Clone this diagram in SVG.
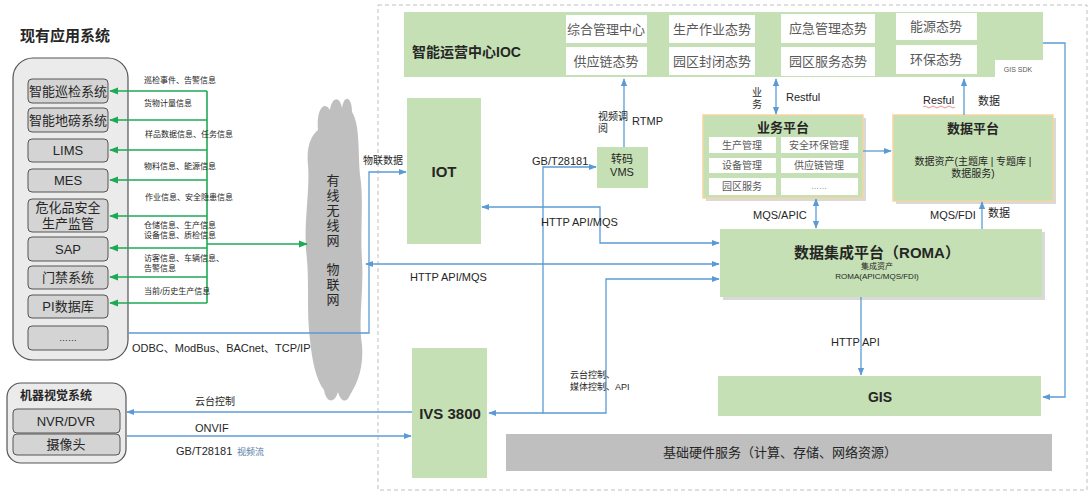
<svg xmlns="http://www.w3.org/2000/svg" width="1091" height="497" viewBox="0 0 1091 497">
<style>
text{font-family:"Liberation Sans","Noto Sans CJK SC",sans-serif;fill:#262626}
.g{fill:#C5E0B4}
.w{fill:#FFFFFF}
.t13{font-size:13px}
.gr{fill:#595959}
.b{font-weight:bold}
.s8{font-size:8px}
.s11{font-size:11px}
.sys{fill:#D4D4D4;stroke:#555;stroke-width:1}
.cb{fill:none;stroke:#5B9BD5;stroke-width:1.3}
.cg{fill:none;stroke:#1EAA55;stroke-width:1.6}
.plat{fill:#C5E0B4;stroke:#F2D6A2;stroke-width:1.5}
.sh{fill:#D9D9D9}
</style>
<defs>
<marker id="ab" viewBox="0 0 10 10" refX="9" refY="5" markerWidth="8" markerHeight="8" markerUnits="userSpaceOnUse" orient="auto-start-reverse"><path d="M0,1 L10,5 L0,9 z" fill="#5B9BD5"/></marker>
<marker id="ag" viewBox="0 0 10 10" refX="9" refY="5" markerWidth="9" markerHeight="9" markerUnits="userSpaceOnUse" orient="auto-start-reverse"><path d="M0,1 L10,5 L0,9 z" fill="#1EAA55"/></marker>
</defs>
<rect width="1091" height="497" fill="#FFFFFF"/>
<rect x="378" y="5" width="709" height="485" fill="none" stroke="#C0C0C0" stroke-dasharray="4,3"/>

<g id="existing-systems">
<text x="20" y="41" font-size="15" class="b">现有应用系统</text>
<rect x="13" y="58" width="115" height="302" rx="20" fill="#EBEBEB" stroke="#555" stroke-width="1.2"/>
<rect class="sys" x="28" y="79" width="80" height="24" rx="4"/><text x="68" y="96" class="t13" text-anchor="middle">智能巡检系统</text>
<rect class="sys" x="28" y="108" width="80" height="24" rx="4"/><text x="68" y="125" class="t13" text-anchor="middle">智能地磅系统</text>
<rect class="sys" x="28" y="139" width="80" height="23" rx="4"/><text x="68" y="155" class="t13" text-anchor="middle">LIMS</text>
<rect class="sys" x="28" y="169" width="80" height="23" rx="4"/><text x="68" y="185" class="t13" text-anchor="middle">MES</text>
<rect class="sys" x="28" y="199" width="80" height="33" rx="4"/><text x="68" y="212" class="t13" text-anchor="middle">危化品安全</text><text x="68" y="228" class="t13" text-anchor="middle">生产监管</text>
<rect class="sys" x="28" y="237" width="80" height="24" rx="4"/><text x="68" y="254" class="t13" text-anchor="middle">SAP</text>
<rect class="sys" x="28" y="266" width="80" height="23" rx="4"/><text x="68" y="282" class="t13" text-anchor="middle">门禁系统</text>
<rect class="sys" x="28" y="295" width="80" height="23" rx="4"/><text x="68" y="311" class="t13" text-anchor="middle">PI数据库</text>
<rect class="sys" x="28" y="326" width="80" height="24" rx="4"/><text x="68" y="341" font-size="9" text-anchor="middle">……</text>
</g>

<g id="cloud">
<path d="M318,130 C316,110 324,100 330,110 C332,96 340,96 342,108 C344,94 352,96 352,112 C360,125 358,150 360,175 C364,200 360,230 362,260 C364,290 358,320 362,345 C364,370 356,385 350,395 C346,405 340,400 338,392 C334,405 326,402 324,390 C316,380 312,360 310,340 C306,310 310,280 306,250 C304,220 310,190 308,165 C306,145 312,135 318,130 Z" fill="#BFBFBF"/>
<g class="t13" text-anchor="middle">
<text x="333" y="185">有</text><text x="333" y="200">线</text><text x="333" y="215">无</text><text x="333" y="230">线</text><text x="333" y="245">网</text>
<text x="333" y="274">物</text><text x="333" y="289">联</text><text x="333" y="304">网</text>
</g>
</g>

<g id="ioc">
<path class="g" d="M404,12 H1043 V60 H995 V77 H404 Z"/>
<text x="412" y="57" font-size="14" class="b">智能运营中心IOC</text>
<rect class="w" x="566" y="15" width="81" height="28"/><text x="606" y="34" class="t13 gr" text-anchor="middle">综合管理中心</text>
<rect class="w" x="566" y="47" width="81" height="28"/><text x="606" y="66" class="t13 gr" text-anchor="middle">供应链态势</text>
<rect class="w" x="669" y="15" width="86" height="28"/><text x="712" y="34" class="t13 gr" text-anchor="middle">生产作业态势</text>
<rect class="w" x="669" y="47" width="86" height="28"/><text x="712" y="66" class="t13 gr" text-anchor="middle">园区封闭态势</text>
<rect class="w" x="781" y="14" width="94" height="29"/><text x="828" y="33" class="t13 gr" text-anchor="middle">应急管理态势</text>
<rect class="w" x="781" y="47" width="94" height="29"/><text x="828" y="66" class="t13 gr" text-anchor="middle">园区服务态势</text>
<rect class="w" x="896" y="13" width="81" height="27"/><text x="936" y="31" class="t13 gr" text-anchor="middle">能源态势</text>
<rect class="w" x="896" y="45" width="81" height="29"/><text x="936" y="64" class="t13 gr" text-anchor="middle">环保态势</text>
<text x="1018" y="72" font-size="7" text-anchor="middle" class="gr">GIS SDK</text>
</g>

<g id="iot"><rect class="g" x="407" y="98" width="74" height="146"/><text x="444" y="177" font-size="15" class="b" text-anchor="middle">IOT</text></g>

<g id="vms"><rect class="g" x="597" y="147" width="51" height="41"/><text x="622" y="163" font-size="11" text-anchor="middle">转码</text><text x="622" y="176" font-size="11" text-anchor="middle">VMS</text></g>

<g id="biz-platform">
<rect class="sh" x="706" y="118" width="160" height="83"/>
<rect class="plat" x="703" y="115" width="160" height="83"/>
<text x="783" y="132" font-size="13" class="b" text-anchor="middle">业务平台</text>
<rect class="w" x="709" y="137" width="67" height="16"/><text x="742" y="149" font-size="10" class="gr" text-anchor="middle">生产管理</text>
<rect class="w" x="781" y="137" width="77" height="16"/><text x="819" y="149" font-size="10" class="gr" text-anchor="middle">安全环保管理</text>
<rect class="w" x="709" y="158" width="67" height="15"/><text x="742" y="169" font-size="10" class="gr" text-anchor="middle">设备管理</text>
<rect class="w" x="781" y="158" width="77" height="15"/><text x="819" y="169" font-size="10" class="gr" text-anchor="middle">供应链管理</text>
<rect class="w" x="709" y="178" width="67" height="17"/><text x="742" y="190" font-size="10" class="gr" text-anchor="middle">园区服务</text>
<rect class="w" x="781" y="178" width="77" height="17"/><text x="819" y="189" font-size="8" class="gr" text-anchor="middle">……</text>
</g>

<g id="data-platform">
<rect class="sh" x="896" y="118" width="160" height="86"/>
<rect class="plat" x="893" y="115" width="160" height="86"/>
<text x="973" y="133" font-size="13" class="b" text-anchor="middle">数据平台</text>
<text x="973" y="165" font-size="10" text-anchor="middle">数据资产(主题库 | 专题库 |</text>
<text x="973" y="177" font-size="10" text-anchor="middle">数据服务)</text>
</g>

<g id="roma">
<rect class="sh" x="723" y="232" width="322" height="68"/>
<rect class="g" x="720" y="229" width="322" height="68"/>
<text x="877" y="258" font-size="15" class="b" text-anchor="middle">数据集成平台（ROMA）</text>
<text x="877" y="269" font-size="8" text-anchor="middle">集成资产</text>
<text x="877" y="279" font-size="8" text-anchor="middle">ROMA(APIC/MQS/FDI)</text>
</g>

<g id="gis"><rect class="g" x="718" y="376" width="323" height="40"/><text x="880" y="402" font-size="14" class="b" text-anchor="middle">GIS</text></g>

<g id="hardware"><rect x="506" y="434" width="546" height="37" fill="#BFBFBF"/><text x="780" y="457" font-size="13" text-anchor="middle">基础硬件服务（计算、存储、网络资源）</text></g>

<g id="ivs"><rect class="g" x="412" y="348" width="75" height="130"/><text x="450" y="419" font-size="15" class="b" text-anchor="middle">IVS 3800</text></g>

<g id="machine-vision">
<rect x="7" y="383" width="119" height="80" rx="14" fill="#EBEBEB" stroke="#555" stroke-width="1.2"/>
<text x="20" y="400" font-size="12" class="b">机器视觉系统</text>
<rect class="sys" x="13" y="409" width="107" height="24" rx="4"/><text x="66" y="426" class="t13" text-anchor="middle">NVR/DVR</text>
<rect class="sys" x="13" y="434" width="107" height="21" rx="4"/><text x="66" y="449" class="t13" text-anchor="middle">摄像头</text>
</g>

<g id="connectors">
<path class="cg" d="M207,91 V303"/>
<path class="cg" d="M207,91 H110" marker-end="url(#ag)"/>
<path class="cg" d="M207,120 H110" marker-end="url(#ag)"/>
<path class="cg" d="M207,150 H110" marker-end="url(#ag)"/>
<path class="cg" d="M207,180 H110" marker-end="url(#ag)"/>
<path class="cg" d="M207,216 H110" marker-end="url(#ag)"/>
<path class="cg" d="M207,248 H110" marker-end="url(#ag)"/>
<path class="cg" d="M207,277 H110" marker-end="url(#ag)"/>
<path class="cg" d="M207,303 H110" marker-end="url(#ag)"/>
<path class="cg" d="M207,244 H307" marker-end="url(#ag)"/>

<path class="cb" d="M128,333 H369 V172 H406" marker-end="url(#ab)"/>
<path class="cb" d="M366,264 H719" marker-start="url(#ab)" marker-end="url(#ab)"/>
<path class="cb" d="M482,207 H600 V243 H719" marker-start="url(#ab)" marker-end="url(#ab)"/>
<path class="cb" d="M596,167 H543 V413 H489" marker-start="url(#ab)" marker-end="url(#ab)"/>
<path class="cb" d="M543,413 H606 V279 H719" marker-end="url(#ab)"/>
<path class="cb" d="M624,147 V79" marker-end="url(#ab)"/>
<path class="cb" d="M776,79 V114" marker-start="url(#ab)" marker-end="url(#ab)"/>
<path class="cb" d="M964,115 V79" marker-end="url(#ab)"/>
<path class="cb" d="M1043,43 H1065 V397 H1043" marker-end="url(#ab)"/>
<path class="cb" d="M863,151 H891" marker-end="url(#ab)"/>
<path class="cb" d="M816,199 V228" marker-start="url(#ab)" marker-end="url(#ab)"/>
<path class="cb" d="M982,229 V202" marker-end="url(#ab)"/>
<path class="cb" d="M861,297 V375" marker-end="url(#ab)"/>
<path class="cb" d="M412,412 H127" marker-end="url(#ab)"/>
<path class="cb" d="M127,436 H411" marker-end="url(#ab)"/>
</g>

<g id="labels">
<g class="s8">
<text x="144" y="83">巡检事件、告警信息</text>
<text x="144" y="106">货物计量信息</text>
<text x="145" y="137">样品数据信息、任务信息</text>
<text x="144" y="169">物料信息、能源信息</text>
<text x="145" y="200">作业信息、安全隐患信息</text>
<text x="144" y="228">仓储信息、生产信息</text>
<text x="144" y="238">设备信息、质检信息</text>
<text x="144" y="261">访客信息、车辆信息、</text>
<text x="144" y="271">告警信息</text>
<text x="144" y="294">当前/历史生产信息</text>
</g>
<text x="132" y="352" class="s11">ODBC、ModBus、BACnet、TCP/IP</text>
<text x="363" y="164" font-size="10">物联数据</text>
<text x="410" y="281" class="s11">HTTP API/MQS</text>
<text x="541" y="226" class="s11">HTTP API/MQS</text>
<text x="532" y="165" class="s11">GB/T28181</text>
<text x="598" y="120" font-size="10">视频调</text>
<text x="598" y="132" font-size="10">阅</text>
<text x="632" y="125" class="s11">RTMP</text>
<text x="752" y="96" font-size="10">业</text>
<text x="752" y="108" font-size="10">务</text>
<text x="786" y="101" class="s11">Restful</text>
<text x="923" y="104" class="s11">Resful</text>
<path d="M923,107 q2,-2 4,0 t4,0 t4,0 t4,0 t4,0 t4,0 t4,0 t4,0" fill="none" stroke="#E06060" stroke-width="0.7"/>
<text x="978" y="105" class="s11">数据</text>
<text x="753" y="219" class="s11">MQS/APIC</text>
<text x="930" y="219" class="s11">MQS/FDI</text>
<text x="988" y="217" class="s11">数据</text>
<text x="831" y="346" class="s11">HTTP API</text>
<text x="570" y="378" font-size="9">云台控制、</text>
<text x="570" y="390" font-size="9">媒体控制、API</text>
<text x="195" y="405" font-size="10">云台控制</text>
<text x="195" y="432" class="s11">ONVIF</text>
<text x="176" y="455" class="s11">GB/T28181</text>
<text x="237" y="455" font-size="9" fill="#5A7CA8" style="fill:#5A7CA8">视频流</text>
</g>
</svg>
